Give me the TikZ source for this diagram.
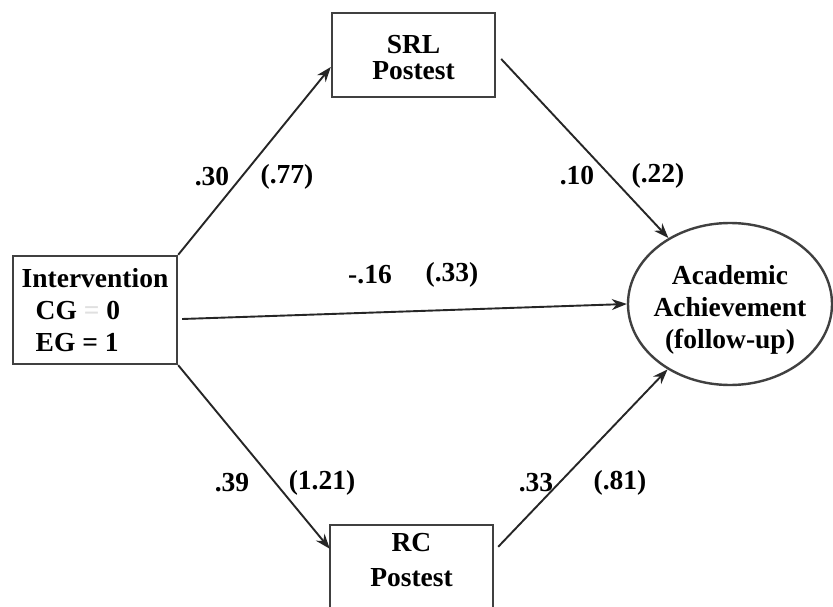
\documentclass[tikz,border=0pt]{standalone}
\usepackage{fontspec}
\setmainfont{Liberation Serif}
\usetikzlibrary{arrows.meta,shapes.geometric}
\begin{document}
\begin{tikzpicture}[x=1pt,y=-1pt,
  txt/.style={font=\fontsize{27.5}{32}\selectfont\bfseries, inner sep=0pt, align=center, text=black},
  boxline/.style={draw=black!75, line width=2.4pt},
  box/.style={txt, boxline, fill=white},
  conn/.style={draw=black!85, line width=1.9pt, -{Stealth[length=15pt,width=11pt]}},
  lab/.style={txt}]
\clip (0,0) rectangle (833,607);
\fill[white] (0,0) rectangle (833,607);
% nodes
\node[box, minimum width=163pt, minimum height=84pt] (srl) at (413.5,55) {};
\node[txt] (srltxt) at (413.5,58) {SRL\\[-6pt]Postest};
\node[box, minimum width=164pt, minimum height=108pt, align=left] (int) at (95,310)
  {Intervention\\\hspace*{14pt}CG {\color{black!12}=} 0\\\hspace*{14pt}EG = 1};
\node[txt, minimum width=163pt, minimum height=70pt] (rc) at (411.5,560) {RC\\[3pt]Postest};
\draw[boxline] (rc.north west) rectangle ([yshift=-30pt]rc.south east);
\node[ellipse, boxline, minimum width=204pt, minimum height=162pt, inner sep=0pt] (ach) at (730,304) {};
\node[txt] (achtxt) at (730,310) {Academic\\Achievement\\(follow-up)};
% connectors
\draw[conn] (int.north east) -- ([yshift=-12pt]srl.west);
\draw[conn] ([xshift=5pt,yshift=-4pt]srl.east) -- (ach);
\draw[conn] ([xshift=4pt,yshift=-9pt]int.east) -- (ach.west);
\draw[conn] (int.south east) -- ([yshift=-24pt]rc.north west);
\draw[conn] ([xshift=5pt,yshift=-22pt]rc.north east) -- (ach);
% labels
\node[lab] (l1a) at (212,177) {.30};
\node[lab] (l1b) at (287,177) {(.77)};
\node[lab] (l2a) at (577,176) {.10};
\node[lab] (l2b) at (658,176) {(.22)};
\node[lab] (l3a) at (370,275) {-.16};
\node[lab] (l3b) at (452,275) {(.33)};
\node[lab] (l4a) at (232,483) {.39};
\node[lab] (l4b) at (322,483) {(1.21)};
\node[lab] (l5a) at (536,483) {.33};
\node[lab] (l5b) at (620,483) {(.81)};
\end{tikzpicture}
\end{document}
